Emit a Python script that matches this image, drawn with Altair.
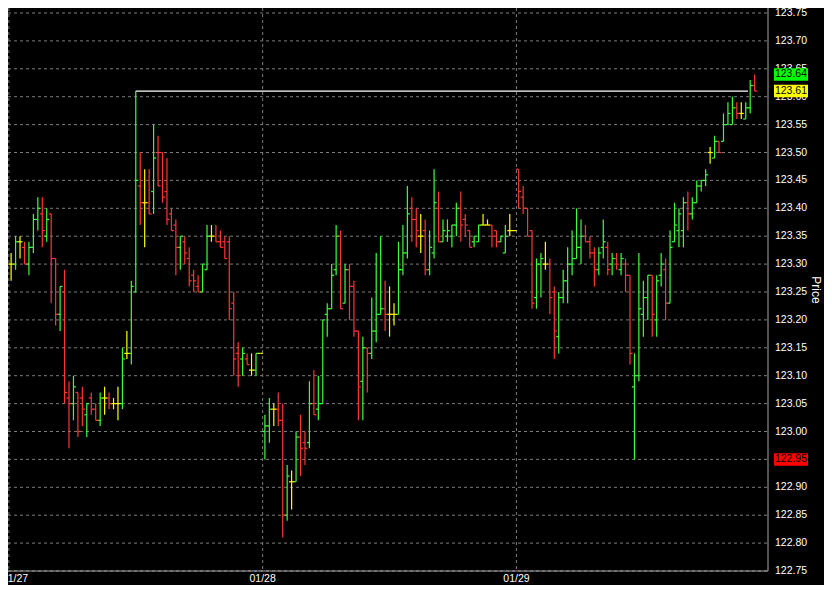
import altair as alt
import pandas as pd

# ---- OHLC values (one entry per bar) ----
opens = [123.30, 123.30, 123.34, 123.33, 123.30, 123.33, 123.38, 123.39, 123.35, 123.39,
         123.31, 123.21, 123.25, 123.06, 123.05, 123.07, 123.06, 123.03, 123.06, 123.04,
         123.02, 123.06, 123.06, 123.05, 123.05, 123.05, 123.14, 123.14, 123.25, 123.44,
         123.41, 123.41, 123.43, 123.50, 123.50, 123.43, 123.39, 123.37, 123.33, 123.34,
         123.31, 123.28, 123.26, 123.25, 123.29, 123.35, 123.35, 123.34, 123.34, 123.34,
         123.23, 123.14, 123.13, 123.13, 123.11, 123.11, 123.14, 123.00, 123.01, 123.04,
         123.04, 123.02, 122.85, 122.91, 122.91, 122.99, 122.98, 122.98, 123.05, 123.04,
         123.05, 123.21, 123.22, 123.29, 123.35, 123.23, 123.29, 123.26, 123.18, 123.09,
         123.15, 123.14, 123.18, 123.21, 123.22, 123.21, 123.21, 123.21, 123.29, 123.32,
         123.40, 123.38, 123.35, 123.36, 123.29, 123.32, 123.40, 123.34, 123.35, 123.35,
         123.37, 123.40, 123.38, 123.36, 123.34, 123.34, 123.37, 123.37, 123.37, 123.36,
         123.34, 123.32, 123.36, 123.36, 123.47, 123.42, 123.40, 123.36, 123.24, 123.30,
         123.30, 123.30, 123.25, 123.17, 123.24, 123.27, 123.30, 123.31, 123.33, 123.35,
         123.34, 123.32, 123.29, 123.33, 123.33, 123.30, 123.31, 123.29, 123.30, 123.28,
         123.08, 123.10, 123.21, 123.24, 123.28, 123.20, 123.28, 123.29, 123.23, 123.34,
         123.36, 123.36, 123.41, 123.39, 123.41, 123.44, 123.45, 123.50, 123.49, 123.52,
         123.52, 123.55, 123.55, 123.58, 123.57, 123.56, 123.58, 123.62]
highs = [123.32, 123.35, 123.35, 123.34, 123.34, 123.39, 123.42, 123.42, 123.40, 123.39,
         123.31, 123.26, 123.29, 123.09, 123.10, 123.07, 123.08, 123.05, 123.07, 123.05,
         123.07, 123.08, 123.07, 123.06, 123.08, 123.15, 123.18, 123.27, 123.61, 123.50,
         123.47, 123.47, 123.55, 123.53, 123.50, 123.49, 123.40, 123.38, 123.35, 123.35,
         123.33, 123.29, 123.28, 123.30, 123.37, 123.37, 123.37, 123.36, 123.35, 123.35,
         123.25, 123.16, 123.15, 123.14, 123.14, 123.14, 123.14, 123.03, 123.06, 123.05,
         123.07, 123.05, 122.94, 122.93, 123.00, 123.03, 123.00, 123.09, 123.11, 123.10,
         123.20, 123.23, 123.30, 123.37, 123.36, 123.30, 123.30, 123.27, 123.18, 123.17,
         123.15, 123.24, 123.32, 123.35, 123.27, 123.26, 123.23, 123.34, 123.37, 123.44,
         123.42, 123.40, 123.39, 123.38, 123.36, 123.47, 123.43, 123.38, 123.38, 123.37,
         123.41, 123.43, 123.39, 123.36, 123.35, 123.37, 123.39, 123.38, 123.37, 123.36,
         123.35, 123.37, 123.39, 123.36, 123.47, 123.44, 123.40, 123.36, 123.31, 123.32,
         123.34, 123.31, 123.26, 123.25, 123.29, 123.33, 123.36, 123.40, 123.38, 123.37,
         123.35, 123.33, 123.33, 123.38, 123.34, 123.32, 123.32, 123.32, 123.31, 123.28,
         123.14, 123.32, 123.27, 123.28, 123.28, 123.28, 123.32, 123.31, 123.36, 123.41,
         123.40, 123.42, 123.43, 123.42, 123.45, 123.45, 123.47, 123.51, 123.53, 123.52,
         123.57, 123.59, 123.60, 123.59, 123.59, 123.59, 123.63, 123.64]
lows = [123.27, 123.29, 123.31, 123.30, 123.28, 123.32, 123.36, 123.33, 123.34, 123.23,
        123.19, 123.18, 123.05, 122.97, 123.02, 122.99, 123.01, 122.99, 123.03, 123.02,
        123.01, 123.03, 123.04, 123.04, 123.02, 123.04, 123.13, 123.12, 123.25, 123.37,
        123.33, 123.39, 123.39, 123.44, 123.41, 123.37, 123.36, 123.28, 123.29, 123.30,
        123.26, 123.25, 123.25, 123.25, 123.29, 123.34, 123.34, 123.33, 123.31, 123.20,
        123.10, 123.08, 123.10, 123.12, 123.10, 123.10, 123.14, 122.95, 122.98, 123.01,
        123.01, 122.81, 122.84, 122.86, 122.91, 122.92, 122.94, 122.97, 123.03, 123.02,
        123.05, 123.17, 123.22, 123.28, 123.22, 123.23, 123.20, 123.17, 123.02, 123.02,
        123.07, 123.13, 123.16, 123.21, 123.18, 123.17, 123.19, 123.21, 123.28, 123.31,
        123.34, 123.33, 123.32, 123.28, 123.28, 123.31, 123.34, 123.34, 123.34, 123.33,
        123.35, 123.34, 123.35, 123.33, 123.33, 123.34, 123.37, 123.37, 123.33, 123.33,
        123.34, 123.32, 123.35, 123.36, 123.40, 123.39, 123.35, 123.22, 123.22, 123.24,
        123.29, 123.21, 123.13, 123.14, 123.23, 123.23, 123.28, 123.31, 123.30, 123.34,
        123.31, 123.26, 123.28, 123.31, 123.28, 123.28, 123.29, 123.28, 123.25, 123.12,
        122.95, 123.09, 123.17, 123.20, 123.17, 123.17, 123.26, 123.20, 123.23, 123.34,
        123.33, 123.33, 123.36, 123.38, 123.41, 123.43, 123.44, 123.48, 123.49, 123.50,
        123.52, 123.55, 123.55, 123.56, 123.56, 123.56, 123.57, 123.61]
closes = [123.30, 123.34, 123.34, 123.30, 123.33, 123.38, 123.40, 123.36, 123.38, 123.31,
          123.21, 123.26, 123.07, 123.05, 123.08, 123.00, 123.04, 123.05, 123.04, 123.02,
          123.06, 123.06, 123.05, 123.05, 123.05, 123.13, 123.14, 123.26, 123.45, 123.41,
          123.41, 123.39, 123.49, 123.44, 123.42, 123.38, 123.36, 123.33, 123.35, 123.32,
          123.27, 123.27, 123.25, 123.30, 123.35, 123.35, 123.34, 123.33, 123.31, 123.22,
          123.13, 123.10, 123.14, 123.12, 123.11, 123.14, 123.14, 123.01, 123.04, 123.04,
          123.02, 122.85, 122.92, 122.91, 122.99, 122.97, 122.97, 123.05, 123.03, 123.05,
          123.20, 123.22, 123.28, 123.35, 123.22, 123.29, 123.26, 123.18, 123.08, 123.15,
          123.14, 123.18, 123.21, 123.22, 123.21, 123.21, 123.21, 123.29, 123.32, 123.39,
          123.38, 123.36, 123.35, 123.29, 123.33, 123.41, 123.34, 123.36, 123.36, 123.37,
          123.40, 123.37, 123.37, 123.33, 123.35, 123.37, 123.37, 123.37, 123.35, 123.34,
          123.35, 123.35, 123.36, 123.36, 123.43, 123.40, 123.35, 123.23, 123.30, 123.31,
          123.30, 123.24, 123.18, 123.24, 123.27, 123.30, 123.31, 123.33, 123.35, 123.34,
          123.32, 123.29, 123.32, 123.34, 123.29, 123.31, 123.30, 123.31, 123.28, 123.14,
          123.10, 123.22, 123.24, 123.28, 123.21, 123.27, 123.30, 123.23, 123.33, 123.37,
          123.39, 123.41, 123.39, 123.41, 123.44, 123.45, 123.46, 123.50, 123.52, 123.50,
          123.55, 123.57, 123.58, 123.57, 123.57, 123.58, 123.62, 123.61]

day_labels = ["01/27", "01/28", "01/29"]
day_first_bar = [0, 57, 114]

price_ticks = [122.75, 122.80, 122.85, 122.90, 122.95, 123.00, 123.05, 123.10,
               123.15, 123.20, 123.25, 123.30, 123.35, 123.40, 123.45, 123.50,
               123.55, 123.60, 123.65, 123.70, 123.75]
axis_title = "Price"

last_price = 123.61
last_line_from = 28
last_line_to = 165.5

badge_prices = [123.64, 123.61, 122.95]
badge_kinds = ["High", "Last", "Low"]

# ---- styling ----
UP, DOWN, FLAT = "#3cff3c", "#ff3535", "#ffff00"
GRID, DOMAIN = "#7c7c7c", "#a8a8a8"
FONT = "Liberation Sans"
W, H = 760, 563
TOP_GAP = 5  # pixels between the plot top and the highest grid line

df = pd.DataFrame({"bar": list(range(len(opens))), "open": opens, "high": highs,
                   "low": lows, "close": closes})

lo, hi = price_ticks[0], price_ticks[-1]
xs = alt.Scale(domain=[-0.7, 170.0], nice=False, zero=False)
ys = alt.Scale(domain=[lo, hi + TOP_GAP * (hi - lo) / (H - TOP_GAP)], nice=False, zero=False)


def X(field):
    return alt.X(field, scale=xs, axis=None)


def Y(field):
    return alt.Y(field, scale=ys, axis=None)


# ---- grid, axis lines and axis labels ----
tick_df = pd.DataFrame({"price": price_ticks})
day_df = pd.DataFrame({"bound": [b - 0.5 for b in day_first_bar], "label": day_labels,
                       "order": list(range(len(day_labels)))})
one = pd.DataFrame({"title": [axis_title]})

hgrid = alt.Chart(tick_df).mark_rule(color=GRID, strokeDash=[3, 3], strokeWidth=1).encode(
    x=alt.value(0), x2=alt.value(W), y=Y("price:Q"))
vgrid = alt.Chart(day_df).mark_rule(color=GRID, strokeDash=[3, 3], strokeWidth=1).encode(
    x=X("bound:Q"), y=alt.value(0), y2=alt.value(H))
right_line = alt.Chart(one).mark_rule(color=DOMAIN, strokeWidth=1).encode(
    x=alt.value(W), y=alt.value(0), y2=alt.value(H))
bottom_line = alt.Chart(one).mark_rule(color=DOMAIN, strokeWidth=1).encode(
    x=alt.value(0), x2=alt.value(W), y=alt.value(H))

ylabels = alt.Chart(tick_df).mark_text(align="left", baseline="middle", dx=7, font=FONT,
                                       fontSize=10.5, color="white").encode(
    x=alt.value(W), y=Y("price:Q"), text=alt.Text("price:Q", format=".2f"))

xlab_first = alt.Chart(day_df).transform_filter("datum.order == 0").mark_text(
    align="left", baseline="top", dx=-7, font=FONT, fontSize=10.5, color="white").encode(
    x=X("bound:Q"), y=alt.value(H + 3), text="label:N")
xlab_rest = alt.Chart(day_df).transform_filter("datum.order > 0").mark_text(
    align="center", baseline="top", font=FONT, fontSize=10.5, color="white").encode(
    x=X("bound:Q"), y=alt.value(H + 3), text="label:N")

ytitle = alt.Chart(one).mark_text(angle=90, align="center", baseline="middle", font=FONT,
                                  fontSize=12, color="white").encode(
    x=alt.value(W + 48), y=alt.value(282), text="title:N")

# ---- OHLC bars ----
base = alt.Chart(df).transform_calculate(
    dir="datum.close > datum.open ? 'up' : (datum.close < datum.open ? 'down' : 'flat')"
)
color = alt.Color("dir:N", scale=alt.Scale(domain=["up", "down", "flat"],
                                           range=[UP, DOWN, FLAT]), legend=None)

line_df = pd.DataFrame({"start": [last_line_from], "end": [last_line_to], "price": [last_price]})
last_line = alt.Chart(line_df).mark_rule(color="white", strokeWidth=1.3).encode(
    x=X("start:Q"), x2="end:Q", y=Y("price:Q"))

ranges = base.mark_rule(strokeWidth=1.2).encode(
    x=X("bar:Q"), y=Y("low:Q"), y2="high:Q", color=color)
open_ticks = base.mark_rule(strokeWidth=1.2, xOffset=-2.5).encode(
    x=X("bar:Q"), x2="bar:Q", y=Y("open:Q"), color=color)
close_ticks = base.mark_rule(strokeWidth=1.2, x2Offset=2.5).encode(
    x=X("bar:Q"), x2="bar:Q", y=Y("close:Q"), color=color)

# ---- price badges on the axis ----
bdf = pd.DataFrame({"price": badge_prices, "kind": badge_kinds})
badges = alt.Chart(bdf).mark_tick(orient="horizontal", size=34, thickness=12.5, opacity=1).encode(
    x=alt.value(W + 23),
    y=Y("price:Q"),
    fill=alt.Fill("kind:N", scale=alt.Scale(domain=["High", "Last", "Low"],
                                            range=["#00ff00", "#ffff00", "#ff0000"]),
                  legend=None),
)
badge_text = alt.Chart(bdf).mark_text(align="center", baseline="middle", font=FONT,
                                      fontSize=10.5, color="black").encode(
    x=alt.value(W + 23), y=Y("price:Q"), text=alt.Text("price:Q", format=".2f"))

chart = alt.layer(
    hgrid, vgrid, right_line, bottom_line, ylabels, xlab_first, xlab_rest, ytitle,
    last_line, ranges, open_ticks, close_ticks, badges, badge_text
).resolve_scale(
    color="independent", fill="independent"
).properties(
    width=W, height=H,
    autosize=alt.AutoSizeParams(type="none"),
    padding={"left": 0, "top": 0, "right": 56, "bottom": 14},
).configure(background="black").configure_view(strokeWidth=0)

chart.save("out.html", embed_options={"renderer": "svg", "actions": False})
